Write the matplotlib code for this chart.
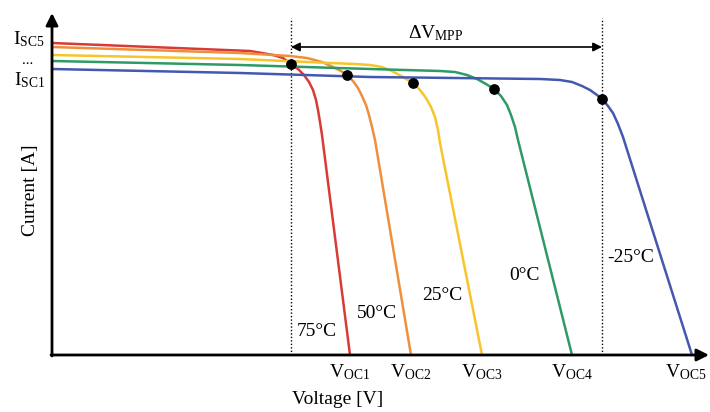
import matplotlib
matplotlib.use("Agg")
import matplotlib.pyplot as plt

plt.rcParams['font.family'] = ['Liberation Serif', 'DejaVu Serif']
plt.rcParams['mathtext.fontset'] = 'custom'
plt.rcParams['mathtext.rm'] = 'Liberation Serif'
plt.rcParams['mathtext.it'] = 'Liberation Serif'
plt.rcParams['mathtext.bf'] = 'Liberation Serif:bold'

# I-V curves (arbitrary units), voltage / current pairs
temps = ['75°C', '50°C', '25°C', '0°C', '-25°C']
colors = ['#d83a36', '#ef8f3c', '#f6c52a', '#2e9a66', '#4558b0']

v_75 = [0, 198, 210, 221, 231, 239, 246, 252, 257, 261, 264, 266, 268, 270, 298]
i_75 = [312, 304, 302, 300, 297, 291, 286, 280, 273, 265, 255, 245, 233, 220, 0]
v_50 = [0, 188, 238, 255, 270, 281, 289, 295, 301, 306, 310, 314, 317, 320, 323, 359]
i_50 = [308, 302, 299, 297, 293, 288, 284, 280, 274, 267, 259, 250, 240, 228, 215, 0]
v_25 = [0, 188, 278, 303, 318, 330, 340, 351, 361, 368, 374, 379, 383, 386, 388, 430]
i_25 = [300, 296, 292, 291, 290, 288, 284, 278, 272, 265, 257, 248, 238, 225, 212, 0]
v_0 = [0, 188, 318, 388, 403, 415, 425, 434, 442, 449, 455, 459, 463, 466, 520]
i_0 = [294, 290, 286, 284, 283, 280, 276, 271, 266, 259, 250, 240, 228, 215, 0]
v_m25 = [0, 188, 318, 488, 508, 520, 530, 538, 545, 550, 556, 561, 566, 571, 640]
i_m25 = [286, 282, 278, 276, 275, 273, 269, 265, 260, 256, 249, 242, 231, 218, 0]

curves_v = [v_75, v_50, v_25, v_0, v_m25]
curves_i = [i_75, i_50, i_25, i_0, i_m25]

# maximum power points
mpp_v = [239, 295, 361, 442, 550]
mpp_i = [291, 280, 272, 266, 256]

# open-circuit voltages
voc = [298, 359, 430, 520, 640]
voc_labels = [r'V$_{\rm OC1}$', r'V$_{\rm OC2}$', r'V$_{\rm OC3}$',
              r'V$_{\rm OC4}$', r'V$_{\rm OC5}$']

# temperature label anchor points
temp_lab_v = [265, 325, 390, 473, 579]
temp_lab_i = [23, 42, 60, 79, 98]

fig = plt.figure(figsize=(7.1, 4.12), dpi=100)
ax = fig.add_axes([0, 0, 1, 1])
ax.set_xlim(-52, 658)
ax.set_ylim(-57, 355)
ax.axis('off')

for v, i, c in zip(curves_v, curves_i, colors):
    ax.plot(v, i, color=c, lw=1.8, solid_joinstyle='round', solid_capstyle='round', zorder=3)

ax.scatter(mpp_v, mpp_i, s=45, color='black', zorder=5)

# dotted boundaries of MPP range
for xv in (mpp_v[0], mpp_v[-1]):
    ax.plot([xv, xv], [0, 337], color='black', lw=1.0, ls=(0, (1, 1.5)), zorder=2)

# delta V arrow
ax.annotate('', xy=(mpp_v[-1], 308), xytext=(mpp_v[0], 308),
            arrowprops=dict(arrowstyle='<|-|>', lw=1.2, color='black',
                            mutation_scale=13, shrinkA=0, shrinkB=0))
ax.text(384, 322, r'$\Delta$V$_{\rm MPP}$', ha='center', va='center', fontsize=14)

# axes with arrows
ax.annotate('', xy=(0, 342), xytext=(0, -1),
            arrowprops=dict(arrowstyle='-|>', lw=2, color='black',
                            mutation_scale=18, shrinkA=0, shrinkB=0), zorder=6)
ax.annotate('', xy=(657, 0), xytext=(-1, 0),
            arrowprops=dict(arrowstyle='-|>', lw=2, color='black',
                            mutation_scale=18, shrinkA=0, shrinkB=0), zorder=6)

# labels
voc_text_x = [298, 359, 430, 520, 634]
for x, lab in zip(voc_text_x, voc_labels):
    ax.text(x, -22, lab, ha='center', va='baseline', fontsize=14)

for x, y, t in zip(temp_lab_v, temp_lab_i, temps):
    ax.text(x, y, t, ha='center', va='center', fontsize=14)

ax.text(-7, 316, r'I$_{\rm SC5}$', ha='right', va='center', fontsize=14)
ax.text(-24, 291, '...', ha='center', va='baseline', fontsize=11)
ax.text(-7, 275, r'I$_{\rm SC1}$', ha='right', va='center', fontsize=14)

ax.text(-22, 165, 'Current [A]', rotation=90, ha='center', va='center', fontsize=14)
ax.text(286, -45, 'Voltage [V]', ha='center', va='center', fontsize=14)

fig.savefig('out.png', dpi=100)
